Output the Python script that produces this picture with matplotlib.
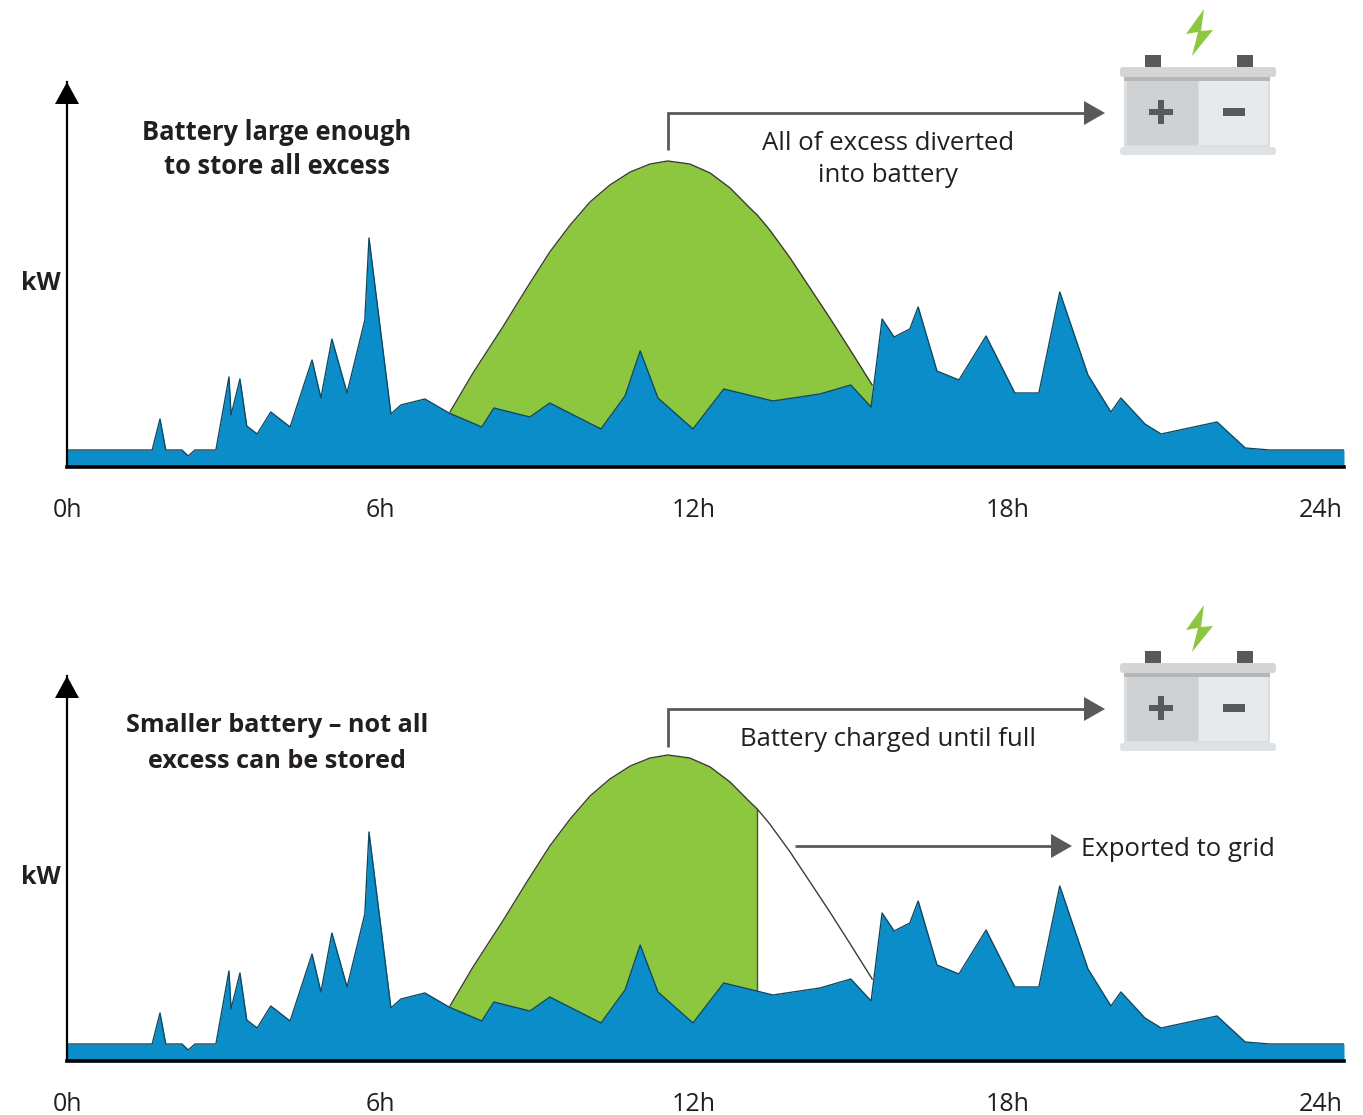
import numpy as np
import matplotlib
matplotlib.use('Agg')
import matplotlib.pyplot as plt
from matplotlib.patches import Polygon, Rectangle, FancyBboxPatch

plt.rcParams['font.family'] = ['Open Sans', 'DejaVu Sans']

# household load
load_h = [0, 1.63, 1.78, 1.89, 2.20, 2.32, 2.45, 2.85, 3.10, 3.14, 3.31, 3.44, 3.64, 3.90, 4.27,
          4.69, 4.86, 5.07, 5.36, 5.70, 5.78, 6.20, 6.39, 6.85, 7.31, 7.94, 8.17, 8.86, 9.24,
          10.22, 10.68, 10.97, 11.31, 11.98, 12.57, 13.51, 14.41, 15.00, 15.39, 15.60, 15.83,
          16.13, 16.29, 16.65, 17.07, 17.59, 18.14, 18.60, 19.00, 19.54, 19.98, 20.17, 20.63,
          20.94, 22.01, 22.55, 23.02, 24.44]
load_kw = [.17, .17, .48, .17, .17, .11, .17, .17, .90, .52, .88, .41, .33, .55, .40,
           1.07, .69, 1.28, .74, 1.47, 2.29, .53, .62, .68, .54, .40, .59, .50, .64,
           .38, .71, 1.16, .69, .38, .78, .66, .73, .82, .60, 1.48, 1.30,
           1.38, 1.60, .96, .87, 1.31, .74, .74, 1.75, .92, .55, .69, .43,
           .33, .45, .19, .17, .17]

# solar generation hump
solar_h = [7.33, 7.77, 8.34, 8.80, 9.24, 9.63, 10.01, 10.39, 10.78, 11.16, 11.50, 11.92,
           12.31, 12.69, 13.07, 13.21, 13.45, 13.84, 14.22, 14.60, 14.99, 15.41]
solar_kw = [.55, .94, 1.40, 1.79, 2.15, 2.42, 2.65, 2.82, 2.95, 3.03, 3.06, 3.03,
            2.94, 2.79, 2.59, 2.52, 2.37, 2.09, 1.79, 1.49, 1.17, .82]

hour_ticks = [0, 6, 12, 18, 24]
hour_labels = ['0h', '6h', '12h', '18h', '24h']
full_battery_until = 13.21

W, H = 1363, 1115
BLUE = '#0b8dca'
GREEN = '#8dc63f'
GREY = '#58595b'
TEXT = '#231f20'


def draw_panel(fig, bottom_px, top_px, battery_end):
    ax = fig.add_axes([67 / W, 1 - bottom_px / H, (1344 - 67) / W, (bottom_px - top_px) / H])
    ax.set_xlim(0, 24.44)
    ax.set_ylim(0, 3.85)
    ax.patch.set_alpha(0)

    h = np.array(solar_h)
    kw = np.array(solar_kw)
    keep = h <= battery_end
    ax.fill_between(h[keep], 0, kw[keep], color=GREEN, lw=0, zorder=1)
    ax.plot(h, kw, color='#3c3c32', lw=1.0, zorder=2)
    if battery_end < h[-1]:
        ax.plot([battery_end, battery_end], [0, kw[keep][-1]], color='#3c5a28', lw=1.0, zorder=2)
    ax.fill_between(load_h, 0, load_kw, color=BLUE, lw=0, zorder=3)
    ax.plot(load_h, load_kw, color='#0d4a63', lw=1.0, zorder=4)

    for side in ['top', 'right']:
        ax.spines[side].set_visible(False)
    ax.spines['bottom'].set_linewidth(2.6)
    ax.spines['left'].set_linewidth(1.6)
    ax.spines['bottom'].set_zorder(6)
    ax.spines['left'].set_zorder(6)
    ax.set_yticks([])
    ax.set_xticks(hour_ticks)
    ax.set_xticklabels(hour_labels, fontsize=18, color=TEXT)
    ax.tick_params(axis='x', length=0, pad=22.5)
    return ax


def draw_battery(ov, dy):
    ov.add_patch(Rectangle((1145, 55 + dy), 16, 12, color=GREY, lw=0))
    ov.add_patch(Rectangle((1237, 55 + dy), 16, 12, color=GREY, lw=0))
    ov.add_patch(Rectangle((1124, 78 + dy), 146, 70, color='#dcdfe2', lw=0))
    ov.add_patch(Rectangle((1127, 78 + dy), 71, 67, color='#cfd0d2', lw=0))
    ov.add_patch(Rectangle((1199, 80 + dy), 69, 65, color='#e8e9eb', lw=0))
    ov.add_patch(Rectangle((1124, 76 + dy), 146, 5, color='#b4b6b8', lw=0))
    ov.add_patch(FancyBboxPatch((1120, 67 + dy), 156, 10, boxstyle='round,pad=0,rounding_size=3',
                                fc='#d4d5d7', ec='none'))
    ov.add_patch(FancyBboxPatch((1120, 147 + dy), 156, 8, boxstyle='round,pad=0,rounding_size=3',
                                fc='#dfe2e5', ec='none'))
    # plus and minus
    ov.add_patch(Rectangle((1149, 109 + dy), 24, 6, color=GREY, lw=0))
    ov.add_patch(Rectangle((1158, 100 + dy), 6, 24, color=GREY, lw=0))
    ov.add_patch(Rectangle((1223, 108 + dy), 22, 8, color=GREY, lw=0))
    # bolt
    bolt = np.array([(1204, 9), (1186, 34), (1198, 32), (1192, 56), (1213, 30), (1201, 31)], dtype=float)
    bolt[:, 1] += dy
    ov.add_patch(Polygon(bolt, closed=True, color=GREEN, lw=0))


def arrow(ov, pts):
    end = pts[-1]
    xs = [p[0] for p in pts[:-1]] + [end[0] - 15]
    ys = [p[1] for p in pts]
    ov.plot(xs, ys, color=GREY, lw=2.0, solid_joinstyle='miter', solid_capstyle='butt')
    ov.add_patch(Polygon([(end[0], end[1]), (end[0] - 21, end[1] - 12), (end[0] - 21, end[1] + 12)],
                         closed=True, color=GREY, lw=0))


fig = plt.figure(figsize=(W / 100, H / 100), dpi=100)
draw_panel(fig, 467, 82, 99)
draw_panel(fig, 1061, 676, full_battery_until)

# overlay in pixel units for the notes and icons
ov = fig.add_axes([0, 0, 1, 1])
ov.set_xlim(0, W)
ov.set_ylim(H, 0)
ov.axis('off')
ov.patch.set_alpha(0)

for dy in [0, 594]:
    ov.add_patch(Polygon([(67, 82 + dy), (55, 104 + dy), (79, 104 + dy)], closed=True, color='black', lw=0))
    ov.text(41, 284 + dy, 'kW', fontsize=18, fontweight='bold', ha='center', va='center', color=TEXT)

draw_battery(ov, 0)
draw_battery(ov, 596)

arrow(ov, [(668, 150), (668, 113), (1105, 113)])
arrow(ov, [(668, 747), (668, 709), (1105, 709)])
arrow(ov, [(795, 846), (1072, 846)])

ov.text(277, 132, 'Battery large enough', fontsize=18.4, fontweight='bold', ha='center', va='center', color=TEXT)
ov.text(277, 167, 'to store all excess', fontsize=18.4, fontweight='bold', ha='center', va='center', color=TEXT)
ov.text(277, 726, 'Smaller battery – not all', fontsize=18.2, fontweight='bold', ha='center', va='center', color=TEXT)
ov.text(277, 761, 'excess can be stored', fontsize=18.2, fontweight='bold', ha='center', va='center', color=TEXT)
ov.text(888, 143, 'All of excess diverted', fontsize=18.5, ha='center', va='center', color=TEXT)
ov.text(888, 175, 'into battery', fontsize=18.5, ha='center', va='center', color=TEXT)
ov.text(888, 739, 'Battery charged until full', fontsize=18.5, ha='center', va='center', color=TEXT)
ov.text(1081, 849, 'Exported to grid', fontsize=18.5, ha='left', va='center', color=TEXT)

fig.savefig('out.png', dpi=100)
